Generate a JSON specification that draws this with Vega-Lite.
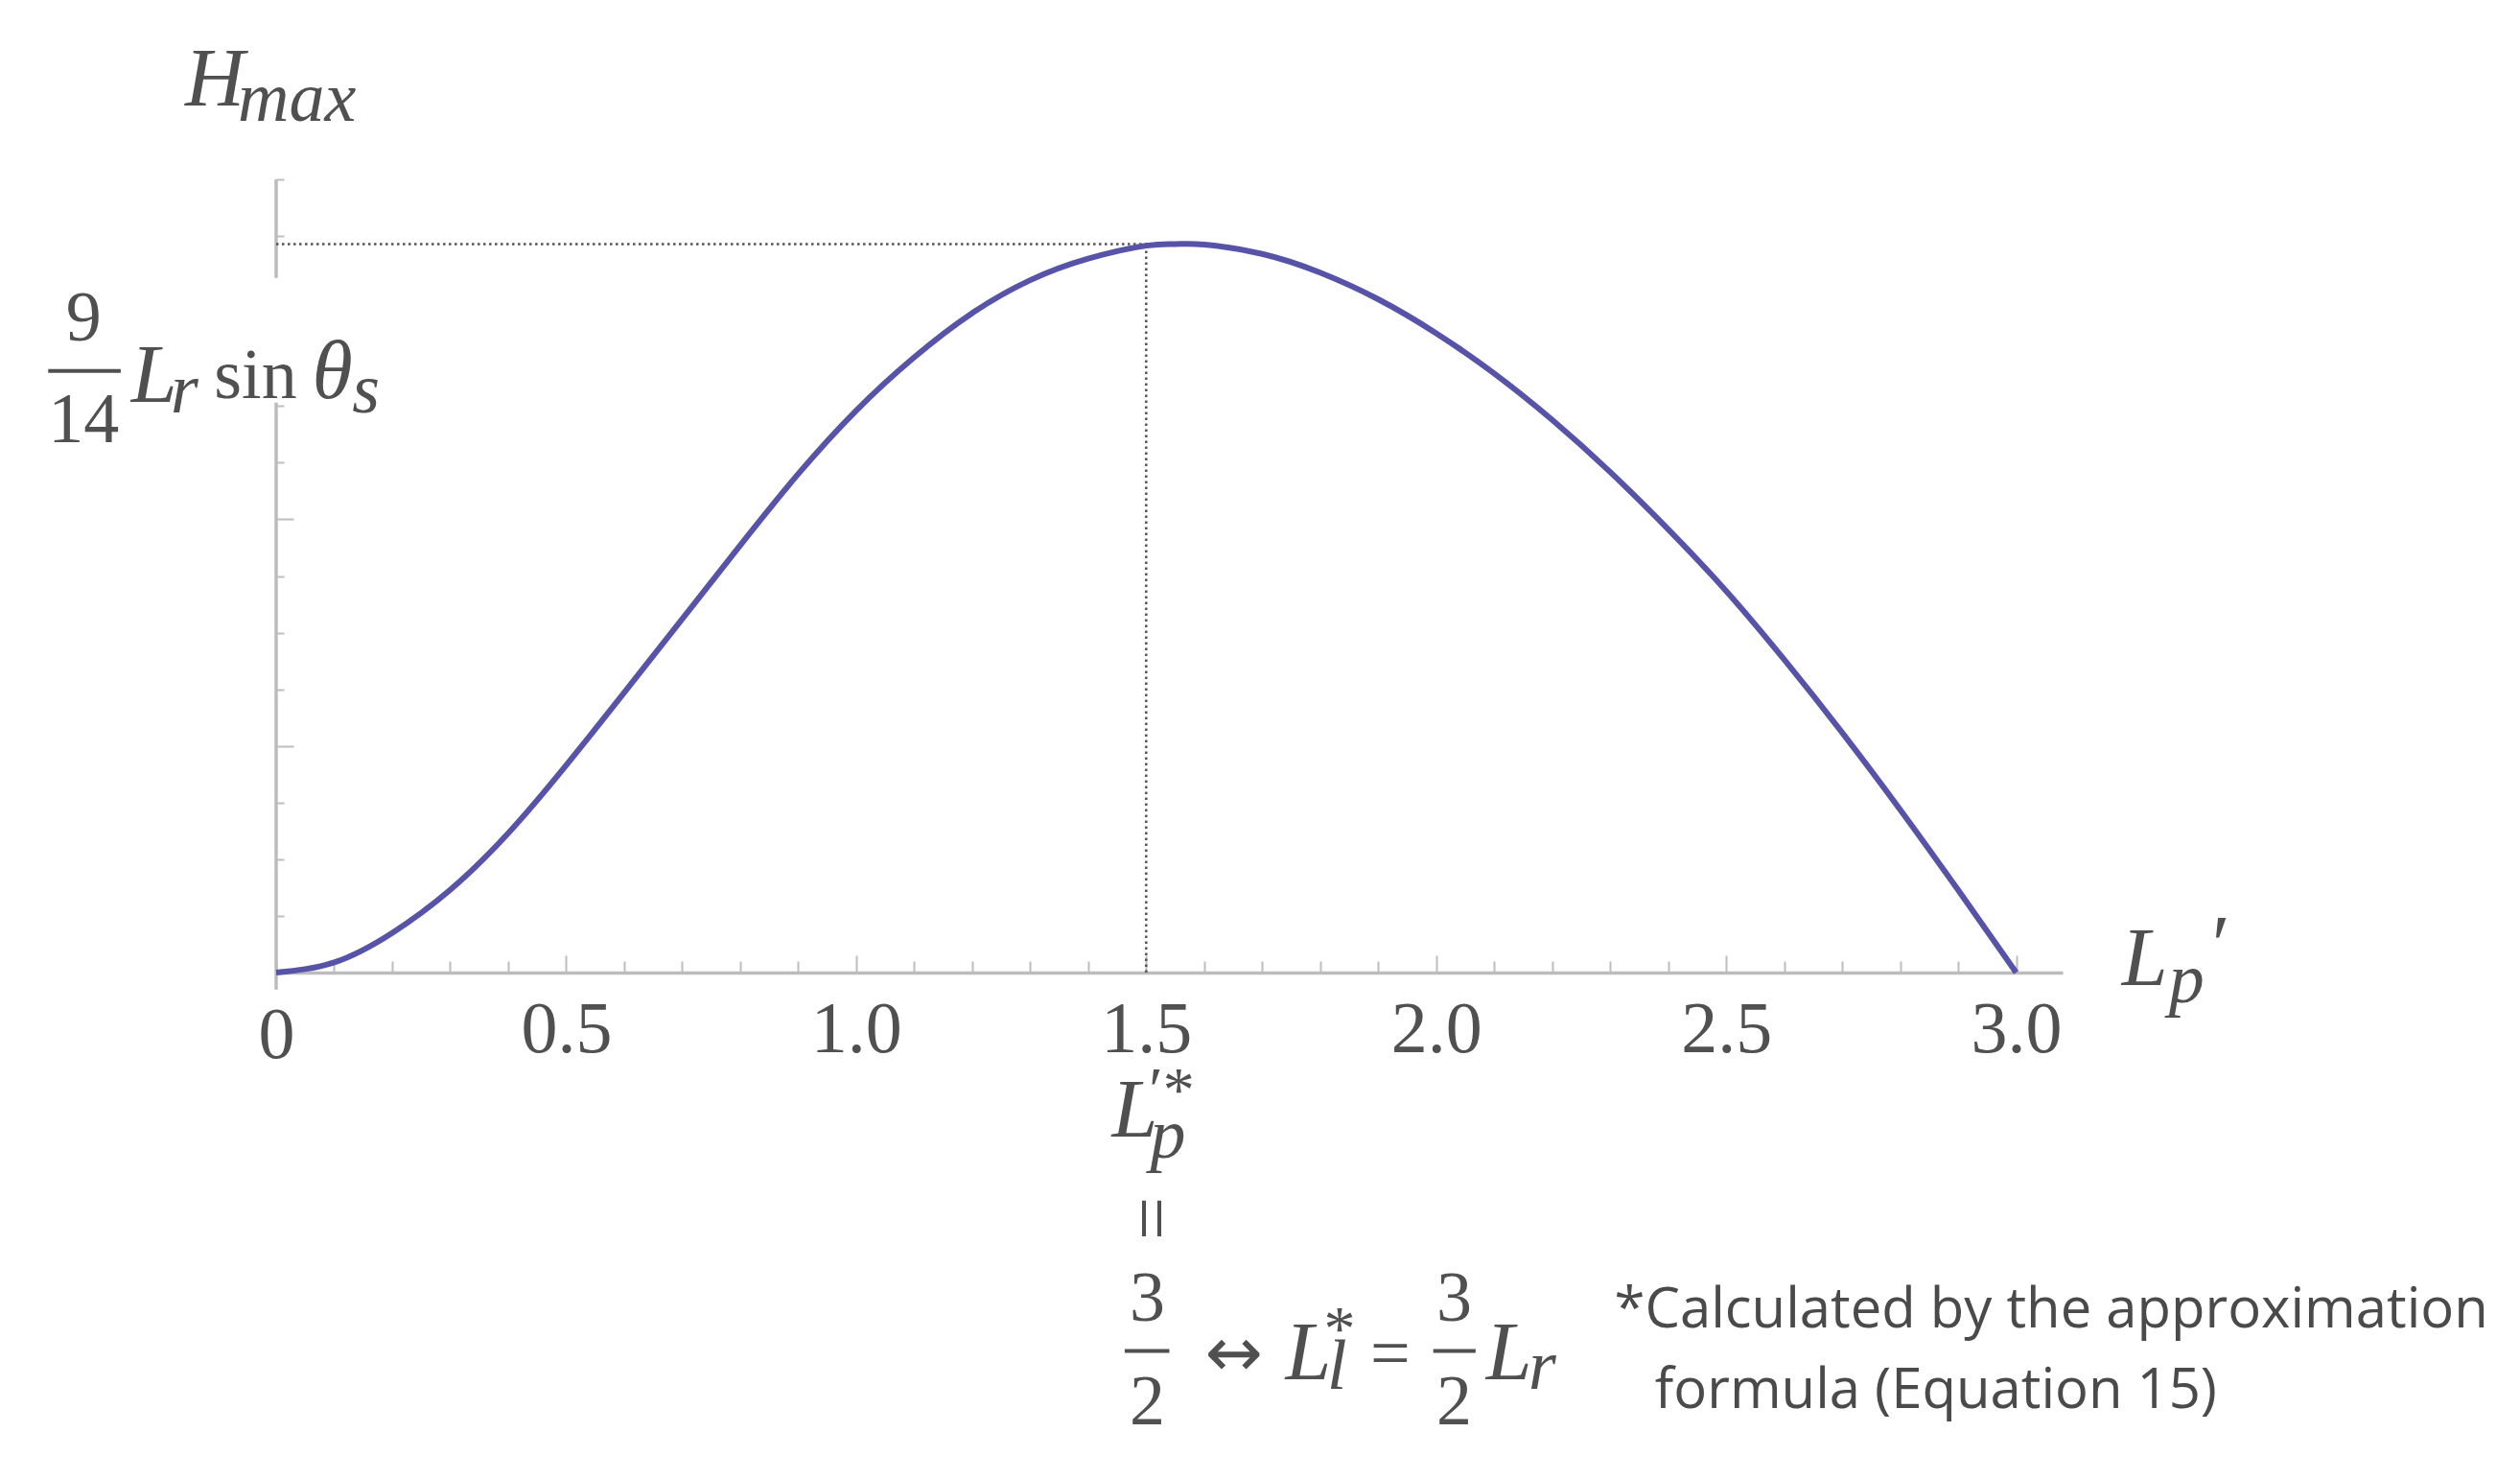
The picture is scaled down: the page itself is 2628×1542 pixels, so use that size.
{
  "$schema": "https://vega.github.io/schema/vega-lite/v6.json",
  "width": 1863,
  "height": 827,
  "autosize": {"type": "none"},
  "padding": {"left": 288, "top": 187, "right": 477, "bottom": 528},
  "background": "white",
  "config": {"view": {"stroke": null}},
  "datasets": {
    "curve": [
      {"x": 0, "y": 0}, {"x": 0.1, "y": 0.009}, {"x": 0.2, "y": 0.035}, {"x": 0.3, "y": 0.073},
      {"x": 0.4, "y": 0.123}, {"x": 0.5, "y": 0.183}, {"x": 0.6, "y": 0.247}, {"x": 0.7, "y": 0.312},
      {"x": 0.8, "y": 0.377}, {"x": 0.9, "y": 0.44}, {"x": 1.0, "y": 0.496}, {"x": 1.1, "y": 0.543},
      {"x": 1.2, "y": 0.582}, {"x": 1.3, "y": 0.611}, {"x": 1.4, "y": 0.63}, {"x": 1.5, "y": 0.6415},
      {"x": 1.55, "y": 0.6429}, {"x": 1.6, "y": 0.6425}, {"x": 1.7, "y": 0.6342}, {"x": 1.8, "y": 0.6177},
      {"x": 1.9, "y": 0.5942}, {"x": 2.0, "y": 0.5642}, {"x": 2.1, "y": 0.5287}, {"x": 2.2, "y": 0.4877},
      {"x": 2.3, "y": 0.4417}, {"x": 2.4, "y": 0.3912}, {"x": 2.5, "y": 0.3367}, {"x": 2.6, "y": 0.2762},
      {"x": 2.7, "y": 0.2117}, {"x": 2.8, "y": 0.1437}, {"x": 2.9, "y": 0.0727}, {"x": 3.0, "y": 0}
    ],
    "guides": [
      {"x": 0, "x2": 1.62, "y": 0.6429, "y2": 0.6429},
      {"x": 1.5, "x2": 1.5, "y": 0, "y2": 0.6429}
    ],
    "yline": [
      {"x": 0, "x2": 0, "y": -0.015, "y2": 0.503},
      {"x": 0, "x2": 0, "y": 0.613, "y2": 0.7}
    ],
    "bars": [
      {"x": -0.393, "x2": -0.268, "y": 0.531, "y2": 0.531},
      {"x": 1.463, "x2": 1.54, "y": -0.334, "y2": -0.334},
      {"x": 1.995, "x2": 2.068, "y": -0.334, "y2": -0.334}
    ],
    "italicBig": [
      {"x": -0.157, "y": 0.765, "t": "H"},
      {"x": -0.25, "y": 0.504, "t": "L"},
      {"x": 0.062, "y": 0.507, "t": "θ"},
      {"x": 3.182, "y": -0.011, "t": "L"},
      {"x": 3.329, "y": 0.0, "t": "′"},
      {"x": 1.441, "y": -0.145, "t": "L"},
      {"x": 1.74, "y": -0.359, "t": "L"},
      {"x": 2.086, "y": -0.359, "t": "L"}
    ],
    "italicSub": [
      {"x": -0.066, "y": 0.752, "t": "max"},
      {"x": -0.182, "y": 0.494, "t": "r"},
      {"x": 0.131, "y": 0.494, "t": "s"},
      {"x": 3.263, "y": -0.026, "t": "p"},
      {"x": 1.507, "y": -0.163, "t": "p"},
      {"x": 1.812, "y": -0.367, "t": "l"},
      {"x": 2.159, "y": -0.367, "t": "r"}
    ],
    "sup": [
      {"x": 1.505, "y": -0.122, "t": "′*"},
      {"x": 1.806, "y": -0.333, "t": "*"}
    ],
    "uprightCenter": [
      {"x": -0.332, "y": 0.558, "t": "9"},
      {"x": -0.332, "y": 0.468, "t": "14"},
      {"x": 1.502, "y": -0.307, "t": "3"},
      {"x": 1.502, "y": -0.399, "t": "2"},
      {"x": 2.031, "y": -0.307, "t": "3"},
      {"x": 2.031, "y": -0.399, "t": "2"},
      {"x": 1.921, "y": -0.356, "t": "="}
    ],
    "uprightLeft": [
      {"x": -0.107, "y": 0.507, "t": "sin"}
    ],
    "rotEq": [
      {"x": 1.504, "y": -0.217, "t": "="}
    ],
    "arrow": [
      {"x": 1.651, "y": -0.338, "t": "↔"}
    ],
    "note": [
      {"x": 2.307, "y": -0.313, "t": "*Calculated by the approximation"},
      {"x": 2.377, "y": -0.384, "t": "formula (Equation 15)"}
    ]
  },
  "encoding": {
    "x": {"field": "x", "type": "quantitative", "scale": {"domain": [0, 3.08], "nice": false, "zero": false},
      "axis": {"title": null, "grid": false, "domain": true, "domainColor": "#bcbcbc", "domainWidth": 3.5,
        "values": [0,0.1,0.2,0.3,0.4,0.5,0.6,0.7,0.8,0.9,1,1.1,1.2,1.3,1.4,1.5,1.6,1.7,1.8,1.9,2,2.1,2.2,2.3,2.4,2.5,2.6,2.7,2.8,2.9,3],
        "tickColor": "#bdbdbd", "tickWidth": 2,
        "tickSize": {"condition": {"test": "indexof([0.5,1,1.5,2,2.5,3], datum.value) >= 0", "value": -18}, "value": -12},
        "labelExpr": "indexof([0.5,1,1.5,2,2.5,3], datum.value) >= 0 ? format(datum.value, '.1f') : (datum.value == 0 ? '0' : '')",
        "labelFont": "Liberation Serif", "labelFontSize": 76, "labelColor": "#505050", "labelPadding": 40,
        "labelOverlap": false, "labelFlush": false, "labelBound": false}},
    "y": {"field": "y", "type": "quantitative", "scale": {"domain": [0, 0.7], "nice": false, "zero": false},
      "axis": {"title": null, "grid": false, "domain": false, "labels": false,
        "values": [0.05,0.1,0.15,0.2,0.25,0.3,0.35,0.4,0.45,0.5,0.65,0.7],
        "tickColor": "#bdbdbd", "tickWidth": 2,
        "tickSize": {"condition": {"test": "datum.value == 0.2 || datum.value == 0.4", "value": -18}, "value": -8}}}
  },
  "layer": [
    {
      "data": {"name": "yline"},
      "mark": {"type": "rule", "color": "#bcbcbc", "strokeWidth": 3.5},
      "encoding": {"x2": {"field": "x2"}, "y2": {"field": "y2"}}
    },
    {
      "data": {"name": "guides"},
      "mark": {"type": "rule", "color": "#555555", "strokeWidth": 2.5, "strokeDash": [2.5, 3.5]},
      "encoding": {"x2": {"field": "x2"}, "y2": {"field": "y2"}}
    },
    {
      "data": {"name": "curve"},
      "mark": {"type": "line", "color": "#5753a8", "strokeWidth": 6, "interpolate": "natural"},
      "encoding": {}
    },
    {
      "data": {"name": "bars"},
      "mark": {"type": "rule", "color": "#505050", "strokeWidth": 4},
      "encoding": {"x2": {"field": "x2"}, "y2": {"field": "y2"}}
    },
    {
      "data": {"name": "italicBig"},
      "mark": {"type": "text", "font": "Liberation Serif", "fontStyle": "italic", "fontSize": 86, "color": "#505050", "align": "left", "baseline": "alphabetic"},
      "encoding": {"text": {"field": "t"}}
    },
    {
      "data": {"name": "italicSub"},
      "mark": {"type": "text", "font": "Liberation Serif", "fontStyle": "italic", "fontSize": 74, "color": "#505050", "align": "left", "baseline": "alphabetic"},
      "encoding": {"text": {"field": "t"}}
    },
    {
      "data": {"name": "sup"},
      "mark": {"type": "text", "font": "Liberation Serif", "fontSize": 66, "color": "#505050", "align": "left", "baseline": "alphabetic"},
      "encoding": {"text": {"field": "t"}}
    },
    {
      "data": {"name": "uprightCenter"},
      "mark": {"type": "text", "font": "Liberation Serif", "fontSize": 74, "color": "#505050", "align": "center", "baseline": "alphabetic"},
      "encoding": {"text": {"field": "t"}}
    },
    {
      "data": {"name": "uprightLeft"},
      "mark": {"type": "text", "font": "Liberation Serif", "fontSize": 74, "color": "#505050", "align": "left", "baseline": "alphabetic"},
      "encoding": {"text": {"field": "t"}}
    },
    {
      "data": {"name": "rotEq"},
      "mark": {"type": "text", "font": "Liberation Serif", "fontSize": 80, "color": "#505050", "align": "center", "baseline": "middle", "angle": 90},
      "encoding": {"text": {"field": "t"}}
    },
    {
      "data": {"name": "arrow"},
      "mark": {"type": "text", "font": "DejaVu Sans", "fontSize": 72, "color": "#505050", "align": "center", "baseline": "middle"},
      "encoding": {"text": {"field": "t"}}
    },
    {
      "data": {"name": "note"},
      "mark": {"type": "text", "font": "Open Sans", "fontSize": 58, "color": "#4a4a4a", "align": "left", "baseline": "alphabetic"},
      "encoding": {"text": {"field": "t"}}
    }
  ]
}
